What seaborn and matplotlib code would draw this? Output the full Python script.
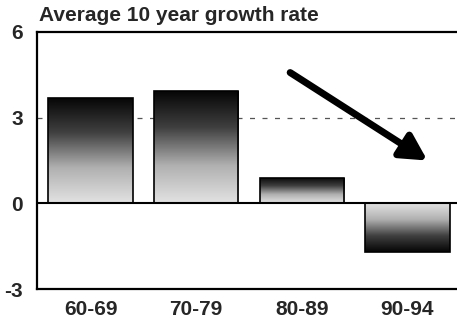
import numpy as np
import pandas as pd
import matplotlib
matplotlib.use("Agg")
import matplotlib.pyplot as plt
import seaborn as sns
from matplotlib.colors import LinearSegmentedColormap

periods = ["60-69", "70-79", "80-89", "90-94"]
growth = [3.7, 3.95, 0.9, -1.7]
yticks = [-3, 0, 3, 6]

sns.set_theme(style="white")
plt.rcParams['font.family'] = ['Liberation Sans', 'DejaVu Sans']

df = pd.DataFrame({"period": periods, "growth": growth})

fig = plt.figure(figsize=(4.57, 3.23), dpi=100)
ax = fig.add_axes([0.081, 0.105, 0.919, 0.796])

sns.barplot(data=df, x="period", y="growth", color="white", width=0.8,
            edgecolor="black", linewidth=1.2, ax=ax, zorder=3)

XL = (-0.507, 3.47)
ax.set_ylim(-3, 6)
ax.set_xlim(*XL)

cmap = LinearSegmentedColormap.from_list("g", ["#e2e2e2", "#b0b0b0", "#404040", "#050505"])
for p in list(ax.patches):
    x0 = p.get_x(); w = p.get_width()
    y0 = p.get_y(); h = p.get_height()
    ylo, yhi = min(y0, y0 + h), max(y0, y0 + h)
    grad = np.linspace(0, 1, 200).reshape(-1, 1)
    img = grad if h >= 0 else grad[::-1]
    im = ax.imshow(img, extent=[x0, x0 + w, ylo, yhi], origin="lower",
                   cmap=cmap, aspect="auto", zorder=3.5, vmin=0, vmax=1)
    im.set_clip_path(p)
    p.set_zorder(4)
    p.set_facecolor("none")

ax.set_ylim(-3, 6)
ax.set_xlim(*XL)

ax.axhline(0, color="black", lw=1.5, zorder=5)
ax.axhline(3, color="#555555", lw=0.9, ls=(0, (4, 6)), zorder=1)

ax.annotate("", xy=(3.19, 1.5), xytext=(1.89, 4.58),
            arrowprops=dict(arrowstyle="-|>,head_length=1.3,head_width=0.7",
                            color="black", lw=5, shrinkA=0, shrinkB=0),
            zorder=6)

for s in ["left", "top", "bottom"]:
    ax.spines[s].set_visible(True)
    ax.spines[s].set_color("black")
    ax.spines[s].set_linewidth(1.6)
ax.spines["right"].set_visible(False)

ax.set_yticks(yticks)
ax.set_yticklabels([str(v) for v in yticks], fontsize=15, fontweight="bold")
ax.tick_params(axis="y", length=0, pad=10)
ax.tick_params(axis="x", length=0, pad=8, labelsize=15)
for lab in ax.get_xticklabels():
    lab.set_fontweight("bold")
ax.set_xlabel("")
ax.set_ylabel("")

fig.text(0.085, 0.953, "Average 10 year growth rate", fontsize=15,
         fontweight="bold", ha="left", va="center")

fig.savefig("out.png", dpi=100)
